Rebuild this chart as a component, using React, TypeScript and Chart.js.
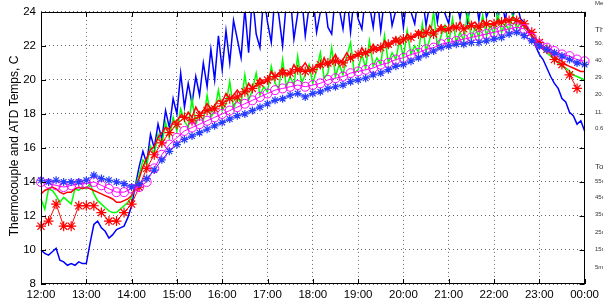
import React, { useEffect, useRef } from "react";
import { Chart, registerables } from "chart.js";

Chart.register(...registerables);

// Time axis: minutes after 12:00
const xTickLabels = ["12:00", "13:00", "14:00", "15:00", "16:00", "17:00", "18:00", "19:00", "20:00", "21:00", "22:00", "23:00", "00:00"];
const FINE_STEP_MIN = 5; // noisy traces sampled every 5 min
const MARK_STEP_MIN = 10; // marker traces sampled every 10 min

// Blue plain thermocouple (5-min samples)
const blueLine = [
  10.0, 9.8, 9.7, 9.9, 10.1, 9.4, 9.3, 9.1, 9.2, 9.1, 9.3, 9.2,
  9.2, 10.4, 11.5, 11.7, 11.3, 11.1, 10.7, 10.9, 11.2, 11.3, 11.4, 11.9,
  12.6, 13.8, 14.9, 15.8, 15.1, 16.8, 16.0, 17.4, 16.5, 18.2, 17.2, 18.9,
  18.0, 20.4, 18.4, 19.8, 18.6, 20.2, 19.1, 21.0, 19.6, 21.8, 20.0, 22.6,
  20.6, 22.9, 21.0, 23.5, 22.4, 21.3, 24.2, 21.6, 25, 22.7, 21.9, 25,
  23.4, 22.2, 25, 23.8, 22.0, 24.6, 25, 22.4, 23.9, 25, 22.6, 24.3,
  25, 22.8, 24.0, 25, 23.1, 22.7, 25, 24.2, 23.0, 25, 22.8, 25,
  23.6, 23.0, 25, 24.4, 23.1, 25, 22.9, 24.8, 25, 23.2, 24.1, 25,
  23.1, 25, 24.0, 23.3, 25, 25, 23.2, 24.5, 25, 23.4, 25, 23.9,
  23.3, 25, 24.6, 23.6, 25, 23.4, 24.8, 25, 23.5, 25, 23.7, 24.3,
  25, 23.6, 24.7, 23.5, 25, 23.7, 24.6, 23.6, 23.4, 23.0, 22.6, 22.0,
  21.5, 21.2, 20.7, 20.2, 19.8, 19.5, 18.9, 18.7, 18.1, 17.9, 17.4, 17.6,
  17.0,
];

// Green noisy thermocouple (5-min samples)
const greenLine = [
  13.0, 12.4, 13.6, 13.5, 13.2, 12.8, 13.1, 12.9, 12.7, 13.6, 13.5, 13.7,
  13.6, 13.9, 13.3, 12.9, 12.7, 12.5, 12.3, 12.2, 12.2, 12.4, 12.6, 12.8,
  13.1, 13.8, 14.4, 15.3, 15.0, 16.1, 15.6, 16.8, 16.2, 17.5, 16.6, 17.8,
  17.0, 18.3, 17.6, 17.2, 18.9, 17.4, 18.0, 17.6, 19.1, 17.8, 18.2, 19.4,
  18.2, 18.6, 19.9, 18.3, 19.0, 18.6, 20.3, 18.8, 19.4, 20.4, 19.1, 19.6,
  19.3, 20.8, 19.8, 19.5, 21.2, 19.6, 20.2, 19.7, 21.4, 19.8, 20.3, 20.9,
  19.8, 20.6, 21.6, 20.1, 20.4, 21.9, 20.2, 20.9, 20.3, 21.4, 22.2, 20.4,
  20.6, 21.5, 20.7, 22.3, 20.8, 21.3, 20.9, 22.6, 21.0, 21.6, 21.2, 22.4,
  21.3, 22.9, 21.5, 22.0, 21.6, 23.3, 21.7, 22.4, 24.0, 21.9, 22.6, 23.2,
  22.1, 23.6, 22.2, 22.8, 22.3, 24.0, 22.4, 23.1, 22.5, 23.8, 22.6, 23.2,
  22.7, 23.9, 22.8, 23.3, 22.9, 23.8, 23.0, 23.4, 23.1, 22.9, 22.6, 22.3,
  22.0, 21.8, 21.6, 21.4, 21.2, 21.0, 20.8, 20.7, 20.5, 20.3, 20.2, 20.1,
  20.0,
];

// Red noisy thermocouple (5-min samples)
const redLine = [
  13.3, 13.5, 13.6, 13.7, 13.6, 13.4, 13.3, 13.4, 13.4, 13.6, 13.7, 13.6,
  13.7, 13.6, 13.5, 13.4, 13.3, 13.2, 13.1, 13.0, 12.8, 12.8, 12.9, 13.0,
  13.2, 13.7, 14.2, 14.9, 15.4, 15.9, 16.1, 16.6, 16.9, 17.2, 17.1, 17.5,
  17.6, 17.9, 17.7, 18.1, 17.8, 18.4, 18.0, 18.2, 18.6, 18.3, 18.5, 18.8,
  18.7, 19.2, 18.9, 19.1, 19.4, 19.1, 19.3, 19.8, 19.5, 19.7, 20.1, 19.8,
  20.0, 20.5, 20.2, 20.4, 20.7, 20.3, 20.4, 20.9, 20.5, 20.7, 21.0, 20.6,
  20.6, 20.9, 20.7, 21.3, 20.8, 21.1, 21.5, 21.0, 21.2, 21.6, 21.2, 21.4,
  21.4, 21.9, 21.5, 21.7, 22.1, 21.7, 21.8, 22.3, 21.9, 22.2, 22.5, 22.1,
  22.3, 22.7, 22.4, 22.6, 22.9, 22.5, 22.6, 23.2, 22.8, 22.9, 23.2, 22.9,
  22.9, 23.2, 23.0, 23.4, 23.0, 23.1, 23.3, 23.4, 23.1, 23.5, 23.2, 23.3,
  23.2, 23.5, 23.3, 23.6, 23.4, 23.7, 23.5, 23.4, 23.2, 22.9, 22.6, 22.4,
  22.1, 21.9, 21.7, 21.6, 21.4, 21.2, 21.1, 20.9, 20.8, 20.7, 20.6, 20.5,
  20.5,
];

// Red with asterisks (10-min samples)
const redStars = [
  11.4, 11.7, 12.7, 11.4, 11.4, 12.6,
  12.6, 12.6, 12.2, 11.7, 11.7, 12.2,
  12.7, 13.7, 14.8, 15.6, 16.3, 16.9,
  17.4, 17.8, 17.6, 17.9, 18.2, 18.3,
  18.6, 18.9, 19.0, 19.3, 19.5, 19.8,
  20.0, 20.2, 20.4, 20.4, 20.6, 20.5,
  20.6, 20.9, 21.0, 21.1, 21.0, 21.3,
  21.5, 21.6, 21.8, 21.9, 22.1, 22.3,
  22.4, 22.5, 22.7, 22.8, 22.7, 23.0,
  23.0, 23.1, 23.0, 23.2, 23.1, 23.3,
  23.3, 23.4, 23.5, 23.5, 23.3, 22.8,
  22.2, 21.8, 21.2, 20.9, 20.3, 19.5,
];

// Magenta with circles (10-min samples)
const magentaCircles = [
  14.0, 13.9, 13.8, 13.7, 13.8, 13.9,
  13.9, 14.0, 13.8, 13.6, 13.4, 13.4,
  13.6, 13.7, 14.0, 14.8, 15.6, 16.2,
  16.6, 17.0, 17.2, 17.4, 17.6, 17.8,
  18.0, 18.2, 18.4, 18.6, 18.8, 19.0,
  19.2, 19.4, 19.5, 19.6, 19.7, 19.6,
  19.7, 19.8, 20.0, 20.1, 20.2, 20.4,
  20.5, 20.6, 20.7, 20.9, 21.0, 21.2,
  21.3, 21.5, 21.6, 21.8, 21.9, 22.1,
  22.2, 22.3, 22.4, 22.5, 22.6, 22.7,
  22.8, 22.9, 23.0, 23.1, 23.0, 22.5,
  22.1, 21.9, 21.7, 21.5, 21.4, 21.2,
  21.1,
];

// Blue with asterisks (10-min samples)
const blueStars = [
  14.1, 14.0, 14.1, 14.0, 14.0, 14.0,
  14.1, 14.4, 14.2, 14.1, 14.0, 13.9,
  13.7, 13.9, 14.2, 14.7, 15.3, 15.8,
  16.2, 16.5, 16.7, 16.9, 17.1, 17.3,
  17.5, 17.7, 17.9, 18.0, 18.2, 18.4,
  18.6, 18.8, 18.9, 19.1, 19.2, 19.0,
  19.2, 19.3, 19.5, 19.6, 19.7, 19.9,
  20.0, 20.1, 20.3, 20.4, 20.6, 20.8,
  20.9, 21.1, 21.3, 21.5, 21.7, 21.9,
  22.0, 22.1, 22.1, 22.2, 22.2, 22.3,
  22.4, 22.5, 22.7, 22.8, 22.6, 22.3,
  22.0, 21.8, 21.6, 21.4, 21.2, 21.0,
  20.9,
];

const yAxisTitle = "Thermocouple and ATD Temps, C";
// Cut-off text of a neighbouring legend/colorbar panel at the right edge
const sidePanelTexts = [
  { t: "Me", big: false },
  { t: "Th", big: true },
  { t: "50.", big: false },
  { t: "40.", big: false },
  { t: "29.", big: false },
  { t: "20.", big: false },
  { t: "11.", big: false },
  { t: "0.6", big: false },
  { t: "To", big: true },
  { t: "55n", big: false },
  { t: "45n", big: false },
  { t: "35n", big: false },
  { t: "25n", big: false },
  { t: "15n", big: false },
  { t: "5m", big: false },
];
const sidePanelY = [3, 30, 43, 60, 77, 94, 112, 128, 167, 181, 197, 214, 232, 249, 267];

const toPoints = (vals: number[], step: number) => vals.map((v, i) => ({ x: i * step, y: v }));

const FONT = "'Liberation Sans', Arial, Helvetica, sans-serif";

export default function App() {
  const ref = useRef<HTMLCanvasElement | null>(null);

  useEffect(() => {
    if (!ref.current) return;
    document.body.style.margin = "0";

    const framePlugin = {
      id: "matlabFrame",
      afterDraw(chart: any) {
        const { ctx, chartArea: a, scales } = chart;
        ctx.save();
        ctx.strokeStyle = "#000";
        ctx.lineWidth = 1;
        ctx.strokeRect(Math.round(a.left) + 0.5, Math.round(a.top) + 0.5, Math.round(a.right - a.left) - 1, Math.round(a.bottom - a.top) - 1);
        const tl = 5;
        ctx.beginPath();
        scales.x.ticks.forEach((t: any) => {
          const px = Math.round(scales.x.getPixelForValue(t.value)) + 0.5;
          ctx.moveTo(px, a.bottom);
          ctx.lineTo(px, a.bottom - tl);
          ctx.moveTo(px, a.top);
          ctx.lineTo(px, a.top + tl);
        });
        scales.y.ticks.forEach((t: any) => {
          const py = Math.round(scales.y.getPixelForValue(t.value)) + 0.5;
          ctx.moveTo(a.left, py);
          ctx.lineTo(a.left + tl, py);
          ctx.moveTo(a.right, py);
          ctx.lineTo(a.right - tl, py);
        });
        ctx.stroke();
        ctx.fillStyle = "#000";
        ctx.font = `12px ${FONT}`;
        ctx.textAlign = "center";
        ctx.textBaseline = "middle";
        ctx.translate(15, (a.top + a.bottom) / 2 - 2);
        ctx.rotate(-Math.PI / 2);
        ctx.fillText(yAxisTitle, 0, 0);
        ctx.restore();
        ctx.save();
        ctx.fillStyle = "#333";
        ctx.textAlign = "left";
        ctx.textBaseline = "middle";
        sidePanelTexts.forEach((s, i) => {
          ctx.font = `${s.big ? 8 : 6}px ${FONT}`;
          ctx.fillText(s.t, 595, sidePanelY[i]);
        });
        ctx.restore();
      },
    };

    const clip = { left: 6, right: 6, top: 0, bottom: 0 };

    const chart = new Chart(ref.current, {
      type: "line",
      data: {
        datasets: [
          {
            label: "Blue *",
            data: toPoints(blueStars, MARK_STEP_MIN),
            borderColor: "rgb(40,60,255)",
            backgroundColor: "rgb(40,60,255)",
            borderWidth: 1,
            pointStyle: "star",
            pointRadius: 4,
            pointBorderWidth: 1.2,
            clip,
          },
          {
            label: "Magenta o",
            data: toPoints(magentaCircles, MARK_STEP_MIN),
            borderColor: "#ff00ff",
            backgroundColor: "rgba(0,0,0,0)",
            borderWidth: 1,
            pointStyle: "circle",
            pointRadius: 4.5,
            pointBorderWidth: 1,
            clip,
          },
          {
            label: "Red *",
            data: toPoints(redStars, MARK_STEP_MIN),
            borderColor: "#ff0000",
            backgroundColor: "#ff0000",
            borderWidth: 1,
            pointStyle: "star",
            pointRadius: 5,
            pointBorderWidth: 1.2,
            clip,
          },
          {
            label: "Red",
            data: toPoints(redLine, FINE_STEP_MIN),
            borderColor: "#ff0000",
            borderWidth: 1.5,
            pointRadius: 0,
            clip,
          },
          {
            label: "Green",
            data: toPoints(greenLine, FINE_STEP_MIN),
            borderColor: "#00ff00",
            borderWidth: 1.5,
            pointRadius: 0,
            clip,
          },
          {
            label: "Blue",
            data: toPoints(blueLine, FINE_STEP_MIN),
            borderColor: "#0000ff",
            borderWidth: 1.5,
            pointRadius: 0,
            clip,
          },
        ],
      },
      options: {
        animation: false,
        responsive: false,
        devicePixelRatio: 1,
        layout: { padding: { top: 7, right: 17, left: 0, bottom: 0 } },
        elements: { line: { tension: 0 } },
        plugins: { legend: { display: false }, tooltip: { enabled: false } },
        scales: {
          x: {
            type: "linear",
            min: 0,
            max: 720,
            afterFit: (s: any) => { s.height = 23; },
            ticks: {
              stepSize: 60,
              autoSkip: false,
              maxRotation: 0,
              padding: 4,
              color: "#000",
              font: { family: FONT, size: 11.5 },
              callback: (v: any) => xTickLabels[Math.round(Number(v) / 60)] ?? "",
            },
            grid: { color: "rgba(0,0,0,0.6)", lineWidth: 1, drawTicks: false },
            border: { display: false, dash: [1, 3] },
          },
          y: {
            min: 8,
            max: 24,
            afterFit: (s: any) => { s.width = 41; },
            ticks: {
              stepSize: 2,
              padding: 5,
              color: "#000",
              font: { family: FONT, size: 11.5 },
            },
            grid: { color: "rgba(0,0,0,0.6)", lineWidth: 1, drawTicks: false },
            border: { display: false, dash: [1, 3] },
          },
        },
      },
      plugins: [framePlugin],
    } as any);

    return () => chart.destroy();
  }, []);

  return (
    <div style={{ position: "fixed", left: 0, top: 0, width: 603, height: 307, background: "#fff" }}>
      <canvas ref={ref} width={603} height={307} style={{ display: "block" }} />
    </div>
  );
}
